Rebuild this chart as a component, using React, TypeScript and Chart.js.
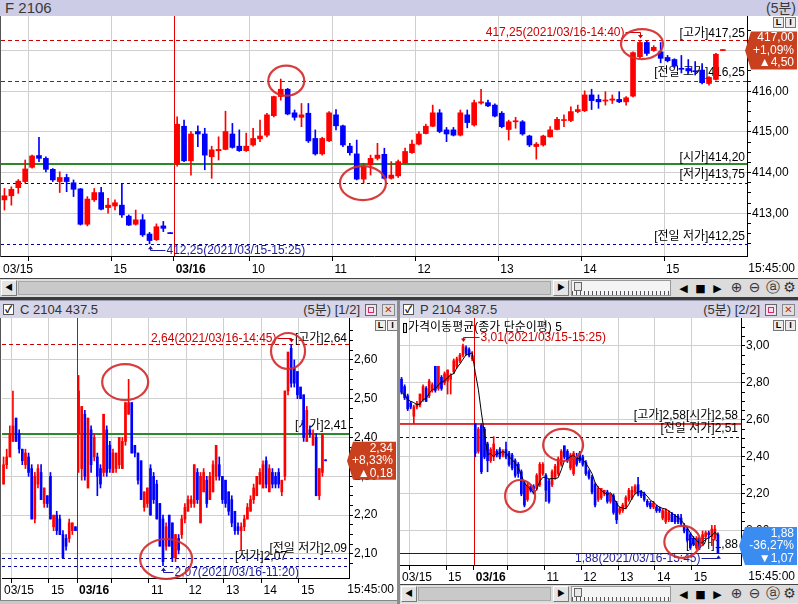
import React, { useEffect, useRef } from 'react';
import { Chart, registerables } from 'chart.js';

Chart.register(...registerables);

const FONT = '"Liberation Sans", "Noto Sans CJK KR", "DejaVu Sans", sans-serif';
const UP = '#ff0000';
const DOWN = '#0000ff';
const GRID = '#cfcfcf';
const DIVIDER = '#e00000';
const HI_LINE = '#cc0000';
const LO_LINE = '#000099';
const OPEN_LINE = '#2a8a2a';
const HI_TEXT = '#cc0000';
const LO_TEXT = '#1c1ca0';
const HEADER_BG = '#ccccE6';
const SUB_HEADER_BG = '#d6d6e8';

// ---------- categories (5-minute slots) ----------
function sessionSlots(day: string, startMinute: number, count: number): string[] {
  const out: string[] = [];
  for (let k = 0; k < count; k++) {
    const m = startMinute + 5 * k;
    out.push(day + ' ' + String(Math.floor(m / 60)).padStart(2, '0') + ':' + String(m % 60).padStart(2, '0'));
  }
  return out;
}
const TOP_SLOTS = [...sessionSlots('03/15', 13 * 60 + 40, 25), ...sessionSlots('03/16', 9 * 60 + 5, 81), '', ''];
const SUB_SLOTS = [...sessionSlots('03/15', 13 * 60 + 45, 24), ...sessionSlots('03/16', 9 * 60 + 5, 81), '', '', '', '', '', ''];

// ---------- F 2106 ----------
const F_O = [413.33, 413.43, 413.63, 413.78, 414.13, 414.42, 414.35, 414.08, 413.78, 413.88, 413.75, 413.60, 412.73, 413.33, 413.51, 413.14, 413.18, 413.20, 412.93, 412.73, 412.84, 412.49, 412.35, 412.69, 412.50,
  414.20, 415.14, 414.29, 415.01, 414.95, 414.39, 414.54, 414.57, 414.95, 414.65, 414.54, 414.68, 414.83, 414.92, 415.40, 415.87, 416.05, 415.47, 415.36, 415.46, 414.84, 414.46, 414.78, 415.42, 415.15, 414.65, 414.46, 413.84, 414.19, 414.35, 414.45, 413.86, 413.92, 414.24, 414.49, 414.70, 414.96, 415.14, 415.47, 415.05, 415.05, 414.92, 415.42, 415.17, 415.71, 415.72, 415.66, 415.46, 415.06, 415.25, 415.25, 414.90, 414.64, 414.68, 414.88, 415.06, 415.28, 415.28, 415.50, 415.52, 415.91, 415.80, 415.76, 415.78, 415.80, 415.74, 415.88, 416.85, 417.20, 417.00, 416.97, 416.83, 416.78, 416.56, 416.56, 416.50, 416.52, 416.19, 416.29, 417.00];
const F_H = [413.61, 413.65, 413.83, 414.31, 414.43, 414.87, 414.39, 414.10, 414.02, 413.96, 413.82, 413.61, 413.41, 413.61, 413.64, 413.37, 413.33, 413.71, 412.96, 413.08, 412.97, 412.53, 412.74, 412.80, 412.50,
  415.37, 415.29, 415.01, 415.15, 415.09, 414.65, 414.88, 415.51, 415.21, 415.05, 414.97, 415.09, 415.29, 415.46, 415.88, 416.30, 416.07, 415.54, 415.70, 415.70, 415.05, 414.87, 415.50, 415.55, 415.17, 414.72, 414.80, 414.23, 414.43, 414.72, 414.60, 414.27, 414.31, 414.60, 414.80, 415.01, 415.19, 415.66, 415.55, 415.11, 415.11, 415.54, 415.54, 415.78, 416.05, 415.78, 415.69, 415.50, 415.29, 415.36, 415.28, 414.92, 414.74, 414.92, 415.13, 415.36, 415.42, 415.62, 415.66, 416.01, 416.05, 415.91, 415.99, 415.91, 415.99, 415.87, 416.97, 417.25, 417.23, 417.12, 417.20, 416.88, 416.80, 416.88, 416.78, 416.73, 416.68, 416.36, 416.93, 417.00];
const F_L = [413.08, 413.20, 413.49, 413.74, 414.11, 414.27, 414.02, 413.78, 413.51, 413.53, 413.41, 412.71, 412.69, 413.29, 413.08, 413.00, 413.08, 412.90, 412.70, 412.71, 412.43, 412.25, 412.33, 412.55, 412.50,
  414.16, 414.27, 413.94, 414.64, 414.07, 413.86, 414.31, 414.56, 414.60, 414.52, 414.52, 414.65, 414.76, 414.88, 415.37, 415.78, 415.42, 415.29, 415.13, 414.74, 414.43, 414.43, 414.76, 415.05, 414.64, 414.43, 413.82, 413.75, 413.94, 414.31, 413.84, 413.84, 413.88, 414.23, 414.47, 414.68, 414.95, 415.13, 414.98, 414.76, 414.90, 414.90, 415.10, 415.14, 415.68, 415.62, 415.37, 415.10, 414.80, 415.09, 414.92, 414.64, 414.33, 414.65, 414.87, 415.05, 415.13, 415.25, 415.47, 415.50, 415.55, 415.58, 415.66, 415.70, 415.72, 415.66, 415.86, 416.80, 416.88, 416.98, 416.70, 416.72, 416.58, 416.45, 416.44, 416.40, 416.18, 416.15, 416.27, 417.00];
const F_C = [413.43, 413.59, 413.79, 414.09, 414.41, 414.35, 414.08, 413.82, 413.88, 413.78, 413.59, 412.73, 413.35, 413.51, 413.10, 413.20, 413.26, 412.96, 412.71, 412.84, 412.47, 412.33, 412.67, 412.63, 412.50,
  415.19, 414.29, 414.95, 414.95, 414.43, 414.56, 414.57, 415.01, 414.62, 414.54, 414.65, 414.84, 414.90, 415.42, 415.87, 416.05, 415.44, 415.36, 415.42, 414.78, 414.46, 414.84, 415.47, 415.15, 414.68, 414.49, 413.84, 414.16, 414.35, 414.43, 413.86, 413.94, 414.27, 414.52, 414.70, 414.95, 415.14, 415.47, 415.01, 414.95, 414.92, 415.47, 415.23, 415.72, 415.74, 415.64, 415.39, 415.13, 415.25, 415.27, 414.95, 414.68, 414.70, 414.90, 415.05, 415.31, 415.30, 415.50, 415.55, 415.91, 415.77, 415.74, 415.78, 415.81, 415.74, 415.84, 416.95, 417.20, 416.93, 417.08, 416.81, 416.75, 416.62, 416.54, 416.50, 416.48, 416.21, 416.34, 416.91, 417.00];
const F_DAY_HIGH = 417.25;
const F_PREV_HIGH = 416.25;
const F_DAY_OPEN = 414.20;
const F_DAY_LOW = 413.75;
const F_PREV_LOW = 412.25;
const F_LAST = 417.00;
const F_CHANGE = 4.50;
const F_RATE = 1.09;
const F_HIGH_TIME = '2021/03/16-14:40';
const F_LOW_TIME = '2021/03/15-15:25';
const F_CIRCLE_AT = [[40.8, 416.26], [51.9, 413.74], [92.3, 417.16]];

// ---------- C 2104 437.5 ----------
const C_O = [2.28, 2.33, 2.35, 2.39, 2.45, 2.41, 2.37, 2.33, 2.35, 2.32, 2.19, 2.28, 2.31, 2.23, 2.25, 2.30, 2.17, 2.20, 2.19, 2.15, 2.14, 2.14, 2.16, 2.17,
  2.41, 2.32, 2.46, 2.27, 2.42, 2.35, 2.35, 2.32, 2.31, 2.42, 2.38, 2.31, 2.32, 2.33, 2.32, 2.39, 2.46, 2.49, 2.38, 2.36, 2.34, 2.22, 2.23, 2.32, 2.30, 2.28, 2.23, 2.19, 2.12, 2.20, 2.18, 2.09, 2.14, 2.15, 2.19, 2.21, 2.23, 2.23, 2.31, 2.18, 2.26, 2.29, 2.24, 2.26, 2.30, 2.33, 2.30, 2.29, 2.26, 2.24, 2.21, 2.17, 2.16, 2.17, 2.19, 2.21, 2.24, 2.25, 2.28, 2.27, 2.34, 2.26, 2.31, 2.30, 2.31, 2.26, 2.30, 2.52, 2.63, 2.58, 2.57, 2.53, 2.51, 2.39, 2.42, 2.38, 2.40, 2.25, 2.31, 2.34];
const C_H = [2.35, 2.37, 2.43, 2.52, 2.45, 2.42, 2.37, 2.37, 2.36, 2.33, 2.31, 2.33, 2.33, 2.27, 2.25, 2.31, 2.20, 2.21, 2.20, 2.16, 2.15, 2.19, 2.18, 2.17,
  2.56, 2.48, 2.47, 2.45, 2.43, 2.41, 2.36, 2.33, 2.46, 2.43, 2.39, 2.37, 2.36, 2.40, 2.40, 2.49, 2.55, 2.49, 2.38, 2.36, 2.34, 2.26, 2.27, 2.33, 2.31, 2.29, 2.23, 2.20, 2.18, 2.20, 2.18, 2.15, 2.15, 2.20, 2.23, 2.25, 2.25, 2.33, 2.32, 2.31, 2.32, 2.30, 2.31, 2.34, 2.38, 2.35, 2.30, 2.29, 2.26, 2.25, 2.21, 2.18, 2.18, 2.20, 2.23, 2.25, 2.28, 2.30, 2.32, 2.34, 2.35, 2.33, 2.32, 2.31, 2.32, 2.29, 2.52, 2.62, 2.64, 2.60, 2.57, 2.53, 2.51, 2.48, 2.43, 2.42, 2.41, 2.32, 2.41, 2.34];
const C_L = [2.28, 2.32, 2.35, 2.39, 2.39, 2.36, 2.33, 2.32, 2.30, 2.19, 2.18, 2.27, 2.24, 2.22, 2.22, 2.19, 2.16, 2.15, 2.15, 2.09, 2.11, 2.13, 2.15, 2.16,
  2.31, 2.29, 2.29, 2.27, 2.31, 2.34, 2.25, 2.27, 2.30, 2.30, 2.31, 2.31, 2.31, 2.32, 2.32, 2.38, 2.46, 2.36, 2.35, 2.28, 2.24, 2.21, 2.22, 2.20, 2.23, 2.19, 2.12, 2.07, 2.11, 2.12, 2.08, 2.08, 2.10, 2.14, 2.18, 2.21, 2.22, 2.22, 2.23, 2.18, 2.26, 2.22, 2.24, 2.26, 2.29, 2.29, 2.23, 2.22, 2.20, 2.17, 2.15, 2.15, 2.11, 2.16, 2.19, 2.21, 2.23, 2.25, 2.28, 2.27, 2.27, 2.26, 2.27, 2.27, 2.27, 2.25, 2.29, 2.51, 2.53, 2.53, 2.50, 2.50, 2.39, 2.39, 2.40, 2.38, 2.25, 2.24, 2.30, 2.34];
const C_C = [2.33, 2.35, 2.41, 2.43, 2.39, 2.37, 2.34, 2.36, 2.31, 2.19, 2.30, 2.32, 2.24, 2.27, 2.23, 2.19, 2.20, 2.16, 2.15, 2.09, 2.12, 2.18, 2.18, 2.16,
  2.52, 2.48, 2.30, 2.45, 2.33, 2.40, 2.30, 2.28, 2.46, 2.31, 2.32, 2.36, 2.36, 2.40, 2.39, 2.49, 2.49, 2.36, 2.36, 2.29, 2.24, 2.26, 2.27, 2.20, 2.24, 2.19, 2.12, 2.08, 2.17, 2.12, 2.09, 2.15, 2.11, 2.19, 2.22, 2.24, 2.24, 2.33, 2.24, 2.30, 2.31, 2.23, 2.30, 2.33, 2.38, 2.30, 2.24, 2.23, 2.21, 2.18, 2.16, 2.16, 2.17, 2.19, 2.22, 2.24, 2.27, 2.30, 2.31, 2.33, 2.28, 2.32, 2.28, 2.28, 2.28, 2.29, 2.52, 2.62, 2.54, 2.54, 2.51, 2.50, 2.40, 2.47, 2.41, 2.41, 2.25, 2.32, 2.41, 2.34];
const C_DAY_HIGH = 2.64;
const C_DAY_OPEN = 2.41;
const C_PREV_LOW = 2.09;
const C_DAY_LOW = 2.07;
const C_LAST = 2.34;
const C_CHANGE = 0.18;
const C_RATE = 8.33;
const C_HIGH_TIME = '2021/03/16-14:45';
const C_LOW_TIME = '2021/03/16-11:20';
const C_CIRCLE_AT = [[38.9, 2.543], [52.0, 2.087], [91.0, 2.623]];

// ---------- P 2104 387.5 ----------
const P_O = [2.82, 2.78, 2.73, 2.69, 2.62, 2.67, 2.68, 2.71, 2.77, 2.73, 2.76, 2.89, 2.77, 2.83, 2.80, 2.81, 2.82, 2.86, 2.89, 2.92, 2.95, 2.99, 2.98, 2.93,
  2.58, 2.43, 2.57, 2.55, 2.47, 2.38, 2.40, 2.43, 2.44, 2.41, 2.44, 2.42, 2.41, 2.38, 2.36, 2.32, 2.26, 2.17, 2.24, 2.24, 2.23, 2.25, 2.31, 2.30, 2.27, 2.25, 2.29, 2.31, 2.36, 2.46, 2.43, 2.34, 2.31, 2.40, 2.42, 2.40, 2.37, 2.32, 2.29, 2.25, 2.17, 2.18, 2.20, 2.21, 2.16, 2.19, 2.15, 2.10, 2.11, 2.13, 2.17, 2.18, 2.21, 2.25, 2.21, 2.20, 2.16, 2.15, 2.13, 2.13, 2.12, 2.07, 2.05, 2.06, 2.09, 2.08, 2.08, 2.07, 2.03, 2.01, 1.98, 1.96, 1.91, 1.95, 1.93, 1.97, 1.99, 1.97, 1.96, 1.98];
const P_H = [2.83, 2.79, 2.74, 2.70, 2.68, 2.70, 2.74, 2.79, 2.78, 2.82, 2.80, 2.89, 2.89, 2.84, 2.86, 2.87, 2.85, 2.93, 2.94, 2.96, 3.01, 3.00, 2.99, 2.97,
  2.58, 2.56, 2.58, 2.56, 2.48, 2.45, 2.51, 2.44, 2.45, 2.44, 2.48, 2.43, 2.42, 2.39, 2.37, 2.33, 2.27, 2.26, 2.25, 2.25, 2.31, 2.37, 2.37, 2.31, 2.28, 2.33, 2.36, 2.40, 2.44, 2.46, 2.44, 2.42, 2.43, 2.42, 2.43, 2.41, 2.38, 2.33, 2.30, 2.26, 2.24, 2.23, 2.22, 2.22, 2.20, 2.20, 2.16, 2.13, 2.15, 2.19, 2.23, 2.24, 2.25, 2.29, 2.22, 2.21, 2.17, 2.16, 2.16, 2.14, 2.13, 2.12, 2.12, 2.11, 2.10, 2.09, 2.09, 2.09, 2.04, 2.02, 1.99, 1.97, 1.97, 1.96, 2.00, 2.00, 2.00, 2.03, 2.03, 1.99];
const P_L = [2.74, 2.71, 2.65, 2.66, 2.58, 2.66, 2.67, 2.70, 2.70, 2.72, 2.75, 2.75, 2.76, 2.76, 2.79, 2.74, 2.74, 2.85, 2.88, 2.91, 2.94, 2.95, 2.94, 2.92,
  2.40, 2.42, 2.31, 2.39, 2.32, 2.37, 2.38, 2.40, 2.39, 2.40, 2.39, 2.35, 2.33, 2.29, 2.29, 2.19, 2.13, 2.16, 2.21, 2.20, 2.22, 2.24, 2.30, 2.16, 2.15, 2.24, 2.28, 2.30, 2.35, 2.39, 2.37, 2.33, 2.30, 2.35, 2.37, 2.35, 2.30, 2.28, 2.20, 2.13, 2.16, 2.17, 2.19, 2.15, 2.15, 2.09, 2.04, 2.09, 2.10, 2.12, 2.16, 2.17, 2.20, 2.19, 2.18, 2.16, 2.13, 2.12, 2.12, 2.10, 2.10, 2.06, 2.04, 2.05, 2.05, 2.04, 2.04, 2.03, 1.99, 1.94, 1.90, 1.92, 1.90, 1.90, 1.92, 1.96, 1.96, 1.92, 1.95, 1.88];
const P_C = [2.75, 2.72, 2.66, 2.67, 2.67, 2.69, 2.74, 2.78, 2.70, 2.81, 2.79, 2.76, 2.89, 2.77, 2.85, 2.87, 2.84, 2.92, 2.93, 2.95, 3.00, 2.96, 2.95, 2.95,
  2.42, 2.55, 2.32, 2.40, 2.38, 2.44, 2.47, 2.41, 2.40, 2.43, 2.40, 2.36, 2.34, 2.30, 2.31, 2.20, 2.14, 2.25, 2.22, 2.21, 2.30, 2.36, 2.36, 2.22, 2.16, 2.32, 2.35, 2.39, 2.43, 2.40, 2.38, 2.41, 2.42, 2.36, 2.38, 2.36, 2.31, 2.29, 2.21, 2.14, 2.23, 2.23, 2.22, 2.16, 2.20, 2.10, 2.06, 2.12, 2.14, 2.18, 2.22, 2.22, 2.24, 2.20, 2.19, 2.17, 2.14, 2.13, 2.15, 2.11, 2.11, 2.11, 2.11, 2.10, 2.05, 2.05, 2.05, 2.04, 2.00, 1.95, 1.91, 1.93, 1.96, 1.91, 1.98, 1.99, 1.98, 2.01, 2.01, 1.88];
const P_DAY_HIGH = 2.58;
const P_DAY_OPEN = 2.58;
const P_PREV_LOW = 2.51;
const P_DAY_LOW = 1.88;
const P_PREV_HIGH_MARK = 3.01;
const P_LAST = 1.88;
const P_CHANGE = -1.07;
const P_RATE = -36.27;
const P_HIGH_TIME = '2021/03/15-15:25';
const P_LOW_TIME = '2021/03/16-15:45';
const P_MA_PERIOD = 5;
const P_CIRCLE_AT = [[38.6, 2.189], [52.6, 2.465], [91.4, 1.941]];

// ---------- helpers ----------
const fmt = (v: number) => Math.abs(v).toFixed(2).replace('.', ',');
const sma = (src: number[], n: number) =>
  src.map((_, i) => {
    const s = src.slice(Math.max(0, i - n + 1), i + 1);
    return s.reduce((a, b) => a + b, 0) / s.length;
  });
const tagLines = (last: number, chg: number, rate: number) => [
  fmt(last),
  (rate >= 0 ? '+' : '-') + fmt(rate) + '%',
  (chg >= 0 ? '\u25B2' : '\u25BC') + fmt(chg),
];

function axisText(labels: string[], w: number, dayIdx: Set<number>) {
  const out = labels.map(() => '');
  let lastI = -1;
  let lastW = 0;
  labels.forEach((lab, i) => {
    if (!lab) return;
    const [d, t] = lab.split(' ');
    let text = '';
    if (i === 0 || dayIdx.has(i)) text = d;
    else if (t.endsWith(':00')) text = String(parseInt(t, 10));
    if (!text) return;
    if (lastI >= 0 && (i - lastI) * w < lastW + 4) return;
    out[i] = text;
    lastI = i;
    lastW = text.length * 6.6;
  });
  return out;
}

function annotationPlugin(cfg: any, dayIdx: Set<number>) {
  return {
    id: 'ann_' + cfg.id,
    beforeDatasetsDraw(chart: any) {
      const { ctx, chartArea: a } = chart;
      const x = chart.scales.x;
      const y = chart.scales.y;
      ctx.save();
      // session divider (red vertical line at the first bar of a new day)
      ctx.strokeStyle = DIVIDER;
      ctx.lineWidth = 1;
      dayIdx.forEach((i) => {
        const px = Math.round(x.getPixelForValue(i - 0.5)) + 0.5;
        ctx.beginPath();
        ctx.moveTo(px, a.top);
        ctx.lineTo(px, a.bottom);
        ctx.stroke();
      });
      ctx.beginPath();
      ctx.rect(a.left, a.top, a.right - a.left, a.bottom - a.top);
      ctx.clip();
      for (const ln of cfg.lines) {
        const py = Math.round(y.getPixelForValue(ln.v) + (ln.dy || 0)) + (ln.width % 2 ? 0.5 : 0);
        ctx.strokeStyle = ln.color;
        ctx.lineWidth = ln.width;
        ctx.setLineDash(ln.dash);
        ctx.beginPath();
        ctx.moveTo(a.left, py);
        ctx.lineTo(a.right, py);
        ctx.stroke();
      }
      ctx.setLineDash([]);
      ctx.font = '12px ' + FONT;
      ctx.textBaseline = 'middle';
      for (const t of cfg.tags) {
        ctx.fillStyle = t.color;
        ctx.textAlign = 'right';
        ctx.fillText(t.text, a.right - t.inset, y.getPixelForValue(t.v) + t.dy);
      }
      for (const m of cfg.markers) {
        const px = Math.round(x.getPixelForValue(m.i)) + 0.5;
        const vy = y.getPixelForValue(m.v);
        const tip = vy + m.dir * 2;
        const elbow = Math.round(vy + m.dir * m.drop) + 0.5;
        ctx.strokeStyle = m.color;
        ctx.fillStyle = m.color;
        ctx.lineWidth = 1;
        ctx.beginPath();
        ctx.moveTo(px, tip + m.dir * 3);
        ctx.lineTo(px, elbow);
        ctx.lineTo(px + m.side * m.gap, elbow);
        ctx.stroke();
        ctx.beginPath();
        ctx.moveTo(px, tip);
        ctx.lineTo(px - 2.5, tip + m.dir * 3.5);
        ctx.lineTo(px + 2.5, tip + m.dir * 3.5);
        ctx.closePath();
        ctx.fill();
        ctx.textAlign = m.side < 0 ? 'right' : 'left';
        ctx.fillText(m.text, px + m.side * (m.gap + 1), elbow + 0.5);
      }
      ctx.restore();
    },
    afterDatasetsDraw(chart: any) {
      const { ctx } = chart;
      const x = chart.scales.x;
      const y = chart.scales.y;
      ctx.save();
      ctx.strokeStyle = 'rgba(212,44,44,0.92)';
      ctx.lineWidth = 2.2;
      cfg.circles.forEach((c: number[], k: number) => {
        const r = cfg.circleR[k];
        ctx.beginPath();
        ctx.ellipse(x.getPixelForValue(c[0]), y.getPixelForValue(c[1]), r[0], r[1], 0, 0, Math.PI * 2);
        ctx.stroke();
      });
      ctx.restore();
    },
    afterDraw(chart: any) {
      const { ctx, chartArea: a } = chart;
      const y = chart.scales.y;
      ctx.save();
      const h = 38;
      let top = y.getPixelForValue(cfg.price.v) - h / 2;
      if (top + h > a.bottom) top = a.bottom - h;
      if (top < a.top) top = a.top;
      const xl = a.right + 4;
      const xr = chart.width - 1;
      const xp = a.right - 2;
      ctx.fillStyle = cfg.price.bg;
      ctx.beginPath();
      ctx.moveTo(xp, top + h / 2);
      ctx.lineTo(xl, top);
      ctx.lineTo(xr, top);
      ctx.lineTo(xr, top + h);
      ctx.lineTo(xl, top + h);
      ctx.closePath();
      ctx.fill();
      ctx.fillStyle = '#ffffff';
      ctx.font = '12px ' + FONT;
      ctx.textAlign = 'right';
      ctx.textBaseline = 'middle';
      cfg.price.lines.forEach((s: string, k: number) => ctx.fillText(s, xr - 3, top + 6.5 + k * 12.5));
      ctx.fillStyle = '#000';
      ctx.fillText('15:45:00', chart.width - 3, a.bottom + 5 + cfg.xPad + 7);
      if (cfg.legend) {
        ctx.fillStyle = '#000';
        ctx.fillRect(a.left + 3, a.top + 5, 4, 10);
        ctx.fillStyle = '#ddd';
        ctx.fillRect(a.left + 4, a.top + 6, 2, 8);
        ctx.fillStyle = '#000';
        ctx.textAlign = 'left';
        ctx.fillText(cfg.legend, a.left + 8, a.top + 10);
      }
      ctx.restore();
    },
  };
}

function buildChart(canvas: HTMLCanvasElement, cfg: any) {
  const labels: string[] = cfg.labels;
  const n = labels.length;
  const w = (canvas.width - cfg.padLeft - cfg.yAxisWidth) / n;
  const gridIdx = new Set<number>();
  const dayIdx = new Set<number>();
  labels.forEach((lab, i) => {
    if (!lab || i === 0) return;
    const [d, t] = lab.split(' ');
    const prev = labels[i - 1].split(' ')[0];
    if (d !== prev) {
      dayIdx.add(i);
      gridIdx.add(i);
    } else if (t.endsWith(':00')) gridIdx.add(i);
  });
  const shown = axisText(labels, w, dayIdx);
  const { o, h, l, c } = cfg;
  const colors = c.map((v: number, i: number) =>
    v > o[i] ? UP : v < o[i] ? DOWN : i > 0 && v < c[i - 1] ? DOWN : UP
  );
  const datasets: any[] = [
    { type: 'bar', data: l.map((v: number, i: number) => [v, h[i]]), backgroundColor: colors, barThickness: 1, grouped: false, order: 3, minBarLength: 1, borderWidth: 0 },
    { type: 'bar', data: o.map((v: number, i: number) => [v, c[i]]), backgroundColor: colors, barThickness: cfg.bodyW, grouped: false, order: 2, minBarLength: 1, borderWidth: 0 },
  ];
  if (cfg.ma) {
    datasets.push({ type: 'line', data: cfg.ma, borderColor: '#000', borderWidth: 1, pointRadius: 0, tension: 0, order: 1 });
  }
  const isStep = (v: number, s: number) => Math.abs(v / s - Math.round(v / s)) < 1e-6;
  const transparent = 'rgba(0,0,0,0)';
  return new Chart(canvas, {
    type: 'bar',
    data: { labels, datasets },
    options: {
      responsive: false,
      animation: false,
      devicePixelRatio: 1,
      events: [],
      layout: { padding: { left: cfg.padLeft, right: 0, top: 0, bottom: 0 } },
      plugins: { legend: { display: false }, tooltip: { enabled: false } },
      scales: {
        x: {
          type: 'category',
          offset: true,
          grid: {
            offset: true,
            color: (ctx: any) => (ctx.type === 'tick' && gridIdx.has(ctx.index) && !dayIdx.has(ctx.index) ? GRID : transparent),
            tickColor: (ctx: any) => (ctx.type === 'tick' && gridIdx.has(ctx.index) ? '#000' : transparent),
            tickLength: 5,
            lineWidth: 1,
          },
          border: { display: true, color: '#000', width: 1 },
          ticks: {
            autoSkip: false,
            maxRotation: 0,
            minRotation: 0,
            align: 'start',
            labelOffset: 2 - w / 2,
            padding: cfg.xPad,
            color: '#000',
            font: (ctx: any) => ({ family: FONT, size: 12, weight: dayIdx.has(ctx.index) ? 'bold' : 'normal' }),
            callback: (_v: any, i: number) => shown[i],
          },
          afterFit: (s: any) => {
            s.height = cfg.xAxisHeight;
            s.paddingLeft = 0;
            s.paddingRight = 0;
          },
        },
        y: {
          type: 'linear',
          position: 'right',
          min: cfg.yMin,
          max: cfg.yMax,
          afterBuildTicks: (s: any) => {
            s.ticks = s.ticks.filter((t: any) => isStep(t.value, cfg.yStep));
          },
          grid: {
            color: (ctx: any) => (ctx.tick && isStep(ctx.tick.value, cfg.labelStep) ? GRID : transparent),
            tickColor: '#000',
            tickLength: 4,
            lineWidth: 1,
          },
          border: { display: true, color: '#000', width: 1 },
          ticks: {
            stepSize: cfg.yStep,
            autoSkip: false,
            padding: 1,
            color: '#000',
            font: { family: FONT, size: 12 },
            callback: (v: any) => {
              const val = Number(v);
              return isStep(val, cfg.labelStep) && val >= cfg.labelMin && val <= cfg.labelMax ? fmt(val) : '';
            },
          },
          afterFit: (s: any) => {
            s.width = cfg.yAxisWidth;
            s.paddingTop = 0;
            s.paddingBottom = 0;
          },
        },
      },
    } as any,
    plugins: [annotationPlugin(cfg, dayIdx)],
  });
}

// ---------- panel configs ----------
const TOP_CFG = {
  id: 'top', labels: TOP_SLOTS, o: F_O, h: F_H, l: F_L, c: F_C,
  yMin: 411.95, yMax: 417.85, yStep: 0.25, labelStep: 1, labelMin: 412.5, labelMax: 417.5,
  padLeft: 1, yAxisWidth: 51, xAxisHeight: 22, xPad: 1, bodyW: 5,
  lines: [
    { v: F_DAY_HIGH, color: HI_LINE, width: 1, dash: [4, 3] },
    { v: F_PREV_HIGH, color: HI_LINE, width: 1, dash: [4, 3] },
    { v: F_DAY_OPEN, color: OPEN_LINE, width: 2, dash: [] },
    { v: F_DAY_LOW, color: LO_LINE, width: 1, dash: [3, 3] },
    { v: F_PREV_LOW, color: LO_LINE, width: 1, dash: [3, 3] },
  ],
  tags: [
    { text: '[고가]' + fmt(F_DAY_HIGH), v: F_DAY_HIGH, color: '#000', inset: 2, dy: -7 },
    { text: '[전일 고가]' + fmt(F_PREV_HIGH), v: F_PREV_HIGH, color: '#000', inset: 2, dy: -8 },
    { text: '[시가]' + fmt(F_DAY_OPEN), v: F_DAY_OPEN, color: '#000', inset: 2, dy: -7 },
    { text: '[저가]' + fmt(F_DAY_LOW), v: F_DAY_LOW, color: '#000', inset: 2, dy: -8 },
    { text: '[전일 저가]' + fmt(F_PREV_LOW), v: F_PREV_LOW, color: '#000', inset: 2, dy: -7 },
  ],
  markers: [
    { i: F_H.indexOf(F_DAY_HIGH), v: F_DAY_HIGH, text: fmt(F_DAY_HIGH) + '(' + F_HIGH_TIME + ')', color: HI_TEXT, side: -1, dir: -1, gap: 15, drop: 8 },
    { i: F_L.indexOf(F_PREV_LOW), v: F_PREV_LOW, text: fmt(F_PREV_LOW) + '(' + F_LOW_TIME + ')', color: LO_TEXT, side: 1, dir: 1, gap: 15, drop: 6 },
  ],
  circles: F_CIRCLE_AT,
  circleR: [[18, 15], [23, 17], [21, 15]],
  price: { v: F_LAST, lines: tagLines(F_LAST, F_CHANGE, F_RATE), bg: '#c8401e' },
};

const LEFT_CFG = {
  id: 'left', labels: SUB_SLOTS, o: C_O, h: C_H, l: C_L, c: C_C,
  yMin: 2.038, yMax: 2.708, yStep: 0.025, labelStep: 0.1, labelMin: 2.05, labelMax: 2.65,
  padLeft: 2, yAxisWidth: 48, xAxisHeight: 22, xPad: 0, bodyW: 2,
  lines: [
    { v: C_DAY_HIGH, color: HI_LINE, width: 1, dash: [4, 3] },
    { v: C_DAY_OPEN, color: OPEN_LINE, width: 2, dash: [] },
    { v: C_PREV_LOW, color: LO_LINE, width: 1, dash: [3, 3] },
    { v: C_DAY_LOW, color: LO_LINE, width: 1, dash: [3, 3] },
  ],
  tags: [
    { text: '[고가]' + fmt(C_DAY_HIGH), v: C_DAY_HIGH, color: '#000', inset: 2, dy: -6 },
    { text: '[시가]' + fmt(C_DAY_OPEN), v: C_DAY_OPEN, color: '#000', inset: 2, dy: -8 },
    { text: '[전일 저가]' + fmt(C_PREV_LOW), v: C_PREV_LOW, color: '#000', inset: 2, dy: -9 },
    { text: '[저가]' + fmt(C_DAY_LOW), v: C_DAY_LOW, color: '#000', inset: 62, dy: -9 },
  ],
  markers: [
    { i: C_H.indexOf(C_DAY_HIGH), v: C_DAY_HIGH, text: fmt(C_DAY_HIGH) + '(' + C_HIGH_TIME + ')', color: HI_TEXT, side: -1, dir: -1, gap: 14, drop: 6 },
    { i: C_L.indexOf(C_DAY_LOW), v: C_DAY_LOW, text: fmt(C_DAY_LOW) + '(' + C_LOW_TIME + ')', color: LO_TEXT, side: 1, dir: 1, gap: 10, drop: 6 },
  ],
  circles: C_CIRCLE_AT,
  circleR: [[23, 18], [26, 20], [17, 18]],
  price: { v: C_LAST, lines: tagLines(C_LAST, C_CHANGE, C_RATE), bg: '#c8401e' },
};

const RIGHT_CFG = {
  id: 'right', labels: SUB_SLOTS, o: P_O, h: P_H, l: P_L, c: P_C, ma: sma(P_C, P_MA_PERIOD),
  yMin: 1.816, yMax: 3.151, yStep: 0.05, labelStep: 0.2, labelMin: 1.9, labelMax: 3.1,
  padLeft: 0, yAxisWidth: 57, xAxisHeight: 19, xPad: 0, bodyW: 2,
  lines: [
    { v: P_DAY_OPEN, color: OPEN_LINE, width: 1, dash: [], dy: -1 },
    { v: P_DAY_HIGH, color: '#e04040', width: 1, dash: [] },
    { v: P_PREV_LOW, color: LO_LINE, width: 1, dash: [3, 3] },
    { v: P_DAY_LOW, color: '#101090', width: 1, dash: [] },
  ],
  tags: [
    { text: '[고가]' + fmt(P_DAY_HIGH) + '[시가]' + fmt(P_DAY_OPEN), v: P_DAY_HIGH, color: '#000', inset: 3, dy: -8 },
    { text: '[전일 저가]' + fmt(P_PREV_LOW), v: P_PREV_LOW, color: '#000', inset: 3, dy: -8 },
    { text: '[저가]' + fmt(P_DAY_LOW), v: P_DAY_LOW, color: '#000', inset: 3, dy: -8 },
  ],
  markers: [
    { i: P_H.indexOf(P_PREV_HIGH_MARK), v: P_PREV_HIGH_MARK, text: fmt(P_PREV_HIGH_MARK) + '(' + P_HIGH_TIME + ')', color: HI_TEXT, side: 1, dir: -1, gap: 16, drop: 7 },
    { i: P_L.lastIndexOf(P_DAY_LOW), v: P_DAY_LOW, text: fmt(P_DAY_LOW) + '(' + P_LOW_TIME + ')', color: LO_TEXT, side: -1, dir: 1, gap: 17, drop: 5 },
  ],
  circles: P_CIRCLE_AT,
  circleR: [[15, 16], [20, 16], [18, 16]],
  price: { v: P_LAST, lines: tagLines(P_LAST, P_CHANGE, P_RATE), bg: '#3b8cf0' },
  legend: '가격이동평균(종가 단순이평) ' + P_MA_PERIOD,
};

// ---------- components ----------
function CandleChart({ cfg, left, top, width, height }: any) {
  const ref = useRef<HTMLCanvasElement>(null);
  useEffect(() => {
    const chart = buildChart(ref.current as HTMLCanvasElement, cfg);
    return () => chart.destroy();
  }, [cfg]);
  return (
    <canvas
      ref={ref}
      width={width}
      height={height}
      style={{ position: 'absolute', left, top, width, height, background: '#fff', display: 'block' }}
    />
  );
}

const abs = (x: number, y: number, w: number, h: number, extra: any = {}) => ({
  position: 'absolute' as const, left: x, top: y, width: w, height: h, boxSizing: 'border-box' as const, ...extra,
});

function LI({ x, y }: { x: number; y: number }) {
  const box = { border: '1px solid #777', background: '#ececec', fontSize: 9, fontWeight: 700, lineHeight: '9px', textAlign: 'center' as const, color: '#000', fontFamily: FONT };
  return (
    <>
      <div style={abs(x, y, 11, 11, box)}>L</div>
      <div style={abs(x + 12, y, 11, 11, box)}>I</div>
    </>
  );
}

function PanelHeader({ x, w, title, page }: { x: number; w: number; title: string; page: string }) {
  return (
    <>
      <div style={abs(x, 300, w, 18, { background: SUB_HEADER_BG, borderTop: '1px solid #9a9ab0' })} />
      <div style={abs(x + 3, 304, 11, 11, { background: '#fff', border: '1px solid #555', fontSize: 10, lineHeight: '9px', textAlign: 'center', color: '#000', fontWeight: 700 })}>✓</div>
      <div style={abs(x + 20, 301, 200, 17, { fontSize: 13, lineHeight: '17px', color: '#333', fontFamily: FONT, whiteSpace: 'nowrap' })}>{title}</div>
      <div style={abs(x + 250, 301, 110, 17, { fontSize: 13, lineHeight: '17px', color: '#333', fontFamily: FONT, textAlign: 'right', whiteSpace: 'nowrap' })}>{page}</div>
      <div style={abs(x + 365, 304, 12, 12, { border: '1px solid #666', background: '#f4e0f0' })}>
        <div style={abs(2, 2, 6, 6, { border: '1px solid #d03060' })} />
      </div>
      <div style={abs(x + 382, 304, 13, 12, { border: '1px solid #888', background: '#e0e0e0', color: '#d02020', fontSize: 10, lineHeight: '10px', textAlign: 'center', fontWeight: 700 })}>✕</div>
    </>
  );
}

function Scrollbar({ x, y, w }: { x: number; y: number; w: number }) {
  const r = (ax: number) => ax - x;
  const btn = { background: '#e4e4e4', borderStyle: 'solid', borderWidth: 1, borderColor: '#fff #7a7a7a #7a7a7a #fff', fontSize: 8, lineHeight: '14px', textAlign: 'center' as const, color: '#000' };
  const icon = { fontSize: 14, lineHeight: '17px', textAlign: 'center' as const, color: '#333', fontFamily: '"DejaVu Sans", sans-serif' };
  return (
    <div style={abs(x, y, w, 19, { background: '#dcdcdc', borderTop: '1px solid #444' })}>
      <div style={abs(1, 1, 16, 16, btn)}>◀</div>
      <div style={abs(18, 2, r(551) - 18, 14, { background: '#c9c9c9', border: '1px solid #a8a8a8' })} />
      <div style={abs(r(553), 1, 16, 16, btn)}>▶</div>
      <div style={abs(r(571), 1, 100, 16, { background: '#f4f4f4', border: '1px solid #999', backgroundImage: 'repeating-linear-gradient(90deg, #555 0 1px, transparent 1px 4px)', backgroundSize: '100% 4px', backgroundPosition: 'bottom', backgroundRepeat: 'no-repeat' })}>
        <div style={abs(2, 1, 8, 9, { background: '#e8e8e8', border: '1px solid #666' })} />
      </div>
      <div style={abs(r(676), 1, 15, 16, { ...icon, fontSize: 11, color: '#000' })}>◀</div>
      <div style={abs(r(693), 1, 15, 16, { ...icon, fontSize: 11, color: '#000' })}>■</div>
      <div style={abs(r(710), 1, 15, 16, { ...icon, fontSize: 11, color: '#000' })}>▶</div>
      <div style={abs(r(728), 0, 17, 17, icon)}>⊕</div>
      <div style={abs(r(746), 0, 17, 17, icon)}>⊖</div>
      <div style={abs(r(764), 0, 17, 17, icon)}>ⓐ</div>
      <div style={abs(r(781), 0, 17, 17, icon)}>⚙</div>
    </div>
  );
}

export default function App() {
  return (
    <div style={{ position: 'fixed', left: 0, top: 0, width: 798, height: 604, overflow: 'hidden', background: '#e6e6e6', fontFamily: FONT }}>
      {/* top panel */}
      <div style={abs(0, 0, 798, 16, { background: HEADER_BG })} />
      <div style={abs(5, 0, 120, 16, { fontSize: 15, lineHeight: '16px', color: '#3a3a3a' })}>F 2106</div>
      <div style={abs(700, 0, 96, 16, { fontSize: 14, lineHeight: '16px', color: '#3a3a3a', textAlign: 'right' })}>(5분)</div>
      <CandleChart cfg={TOP_CFG} left={0} top={16} width={798} height={262} />
      <div style={abs(0, 16, 1, 241, { background: '#555' })} />
      <LI x={773} y={17} />
      <Scrollbar x={0} y={278} w={798} />
      <div style={abs(0, 297, 798, 3, { background: '#3c3c3c' })} />

      {/* bottom-left panel */}
      <PanelHeader x={0} w={397} title="C 2104 437.5" page="(5분) [1/2]" />
      <CandleChart cfg={LEFT_CFG} left={0} top={318} width={397} height={282} />
      <div style={abs(0, 318, 1, 282, { background: '#555' })} />
      <LI x={375} y={320} />
      <div style={abs(0, 600, 397, 4, { background: '#c8c8c8', borderTop: '1px solid #888' })} />

      {/* separator */}
      <div style={abs(397, 300, 3, 304, { background: '#8c8c8c' })} />

      {/* bottom-right panel */}
      <PanelHeader x={400} w={398} title="P 2104 387.5" page="(5분) [2/2]" />
      <CandleChart cfg={RIGHT_CFG} left={400} top={318} width={398} height={266} />
      <LI x={773} y={320} />
      <Scrollbar x={400} y={584} w={398} />
    </div>
  );
}
